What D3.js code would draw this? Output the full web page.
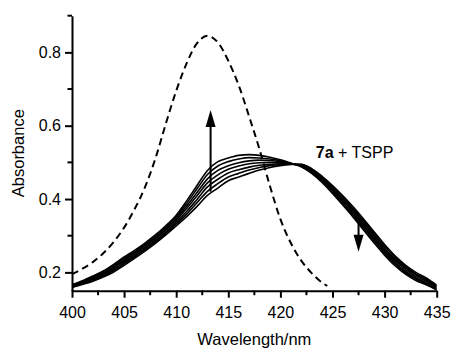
<!DOCTYPE html>
<html>
<head>
<meta charset="utf-8">
<title>7a + TSPP absorbance</title>
<script src="https://d3js.org/d3.v7.min.js"></script>
<style>
  body { margin: 0; background: #fff; }
  svg text { font-family: "Liberation Sans", Arial, sans-serif; fill: #000; }
  .axis path, .axis line { stroke: #000; stroke-width: 2px; }
</style>
</head>
<body>
<script>

// wavelength grid of the titration spectra (nm)
var wl = [400, 401, 402, 403, 404, 405, 406, 407, 408, 409, 410, 411,
          412, 413, 414, 415, 416, 417, 418, 419, 420, 421, 422, 423,
          424, 425, 426, 427, 428, 429, 430, 431, 432, 433, 434, 435];

// 7a + TSPP spectra, first to last addition
var spec0 = [.159, .167, .176, .187, .201, .219, .238, .258, .279, .302, .327,
             .352, .380, .410, .430, .450, .460, .470, .479, .486, .491, .494, .495, .483, .462, .437, .409, .378,
             .345, .310, .276, .245, .220, .200, .185, .165];
var spec1 = [.160, .169, .178, .190, .205, .223, .242, .262, .283, .306, .332,
             .359, .390, .421, .442, .460, .470, .479, .486, .491, .494, .495, .494, .481, .459, .433, .405, .373,
             .340, .305, .271, .241, .216, .196, .182, .163];
var spec2 = [.161, .170, .181, .193, .208, .227, .245, .265, .287, .310, .337,
             .366, .399, .433, .454, .471, .480, .487, .492, .495, .496, .495, .493, .479, .456, .430, .400, .369,
             .335, .300, .266, .236, .212, .193, .179, .161];
var spec3 = [.163, .172, .183, .196, .212, .231, .249, .269, .291, .315, .342,
             .374, .409, .444, .466, .481, .490, .496, .499, .500, .499, .496, .492, .477, .454, .426, .396, .364,
             .330, .295, .262, .232, .208, .189, .176, .159];
var spec4 = [.164, .174, .185, .198, .215, .234, .253, .273, .294, .319, .346,
             .381, .418, .455, .478, .491, .499, .504, .506, .505, .502, .497, .490, .474, .451, .422, .392, .359,
             .325, .290, .257, .227, .203, .185, .172, .156];
var spec5 = [.165, .175, .188, .201, .219, .238, .256, .276, .298, .323, .351,
             .388, .428, .467, .490, .502, .509, .513, .512, .509, .504, .497, .489, .472, .448, .419, .387, .355,
             .320, .285, .252, .223, .199, .182, .169, .154];
var spec6 = [.166, .177, .190, .204, .222, .242, .260, .280, .302, .327, .356,
             .395, .437, .478, .502, .512, .519, .521, .519, .514, .507, .498, .488, .470, .445, .415, .383, .350,
             .315, .280, .247, .218, .195, .178, .166, .152];

// TSPP alone (dashed)
var tsppWl  = [400, 401, 402, 403, 404, 405, 406, 407, 408, 409, 410, 411, 412,
               413, 414, 415, 416, 417, 418, 419, 420, 421, 422, 423, 424, 424.5];
var tsppAbs = [.195, .210, .228, .252, .283, .322, .372, .432, .510, .605, .695, .770, .825,
               .845, .827, .777, .710, .625, .535, .435, .345, .280, .232, .198, .172, .163];

var xTicks = [400, 405, 410, 415, 420, 425, 430, 435];
var xMinor = [402.5, 407.5, 412.5, 417.5, 422.5, 427.5, 432.5];
var yTicks = [0.2, 0.4, 0.6, 0.8];
var yMinor = [0.3, 0.5, 0.7, 0.9];

// arrows: wavelength, start absorbance, tip absorbance
var arrowX    = [413.3, 427.5];
var arrowFrom = [0.42, 0.345];
var arrowTo   = [0.643, 0.256];

var width = 451,
    height = 349;
var margin = {top: 15.7, right: 14.3, bottom: 58.3, left: 72};

var x = d3.scaleLinear().domain([400, 435])
    .range([margin.left, width - margin.right]);
var y = d3.scaleLinear().domain([0.15, 0.9])
    .range([height - margin.bottom, margin.top]);

var svg = d3.select("body").append("svg")
    .attr("width", width)
    .attr("height", height);

svg.append("defs").append("clipPath")
    .attr("id", "plot")
  .append("rect")
    .attr("x", margin.left)
    .attr("y", margin.top)
    .attr("width", x(435) - x(400))
    .attr("height", y(0.15) - y(0.9));

var line = d3.line()
    .x(function (d) { return x(d[0]); })
    .y(function (d) { return y(d[1]); })
    .curve(d3.curveMonotoneX);

var series = [spec0, spec1, spec2, spec3, spec4, spec5, spec6];

var g = svg.append("g").attr("clip-path", "url(#plot)");

g.append("path")
    .datum(d3.zip(tsppWl, tsppAbs))
    .attr("fill", "none")
    .attr("stroke", "#000")
    .attr("stroke-width", 2)
    .attr("stroke-dasharray", "7,4.5")
    .attr("d", line);

g.selectAll(".spec")
    .data(series)
    .enter().append("path")
    .attr("class", "spec")
    .attr("fill", "none")
    .attr("stroke", "#000")
    .attr("stroke-width", 1.6)
    .attr("d", function (s) { return line(d3.zip(wl, s)); });

// axes
var xAxis = svg.append("g")
    .attr("class", "axis")
    .attr("transform", "translate(0," + y(0.15) + ")")
    .call(d3.axisBottom(x).tickValues(xTicks).tickSize(7).tickSizeOuter(0).tickFormat(d3.format("d")));
xAxis.selectAll(".tick")
    .filter(function (d) { return d === 400; })
    .select("line").attr("y1", -1);
xAxis.append("g")
    .selectAll("line")
    .data(xMinor)
    .enter().append("line")
    .attr("x1", function (d) { return x(d); })
    .attr("x2", function (d) { return x(d); })
    .attr("y1", 0)
    .attr("y2", 4.5);

var yAxis = svg.append("g")
    .attr("class", "axis")
    .attr("transform", "translate(" + x(400) + ",0)")
    .call(d3.axisLeft(y).tickValues(yTicks).tickSize(7).tickSizeOuter(0).tickFormat(d3.format(".1f")));
yAxis.append("g")
    .selectAll("line")
    .data(yMinor)
    .enter().append("line")
    .attr("x1", 0)
    .attr("x2", -4.5)
    .attr("y1", function (d) { return y(d); })
    .attr("y2", function (d) { return y(d); });

svg.selectAll(".axis .tick text")
    .style("font-size", "16px")
    .attr("fill", "#000");
xAxis.selectAll(".tick text").attr("dy", "1.1em");
yAxis.selectAll(".tick text").attr("x", -11);

svg.append("text")
    .attr("x", (x(400) + x(435)) / 2)
    .attr("y", height - 4)
    .attr("text-anchor", "middle")
    .style("font-size", "16.5px")
    .text("Wavelength/nm");

svg.append("text")
    .attr("transform", "translate(24," + (y(0.15) + y(0.9)) / 2 + ") rotate(-90)")
    .attr("text-anchor", "middle")
    .style("font-size", "16.5px")
    .text("Absorbance");

// label
var label = svg.append("text")
    .attr("x", x(423.4))
    .attr("y", y(0.512))
    .style("font-size", "16px");
label.append("tspan").style("font-weight", "bold").text("7a");
label.append("tspan").text(" + TSPP");

// arrows
var headLen = 17, headHalf = 5;
arrowX.forEach(function (ax, i) {
    var px = x(ax),
        y0 = y(arrowFrom[i]),
        y1 = y(arrowTo[i]),
        dir = y1 < y0 ? 1 : -1;
    svg.append("line")
        .attr("x1", px).attr("x2", px)
        .attr("y1", y0).attr("y2", y1 + dir * (headLen - 2))
        .attr("stroke", "#000")
        .attr("stroke-width", 2);
    svg.append("path")
        .attr("d", "M" + px + "," + y1 +
                   "L" + (px - headHalf) + "," + (y1 + dir * headLen) +
                   "L" + (px + headHalf) + "," + (y1 + dir * headLen) + "Z")
        .attr("fill", "#000");
});

</script>
</body>
</html>
